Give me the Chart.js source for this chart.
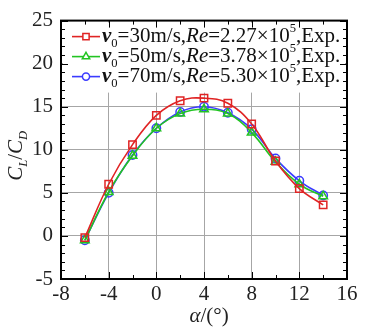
<!DOCTYPE html>
<html>
<head>
<meta charset="utf-8">
<script src="https://cdn.jsdelivr.net/npm/chart.js@4.4.1/dist/chart.umd.min.js"></script>
<style>
    html, body { margin: 0; padding: 0; background: #fff; }
    #wrap { width: 390px; height: 334px; position: relative; }
</style>
</head>
<body>
<div id="wrap"><canvas id="chart"></canvas></div>
<script>
// angle of attack, deg
const alpha = [-6, -4, -2, 0, 2, 4, 6, 8, 10, 12, 14];
// CL/CD for each inflow speed
const ratioV30 = [-0.2, 6.0, 10.6, 14.0, 15.7, 16.0, 15.4, 13.0, 8.7, 5.5, 3.6];
const ratioV50 = [-0.5, 5.1, 9.3, 12.5, 14.2, 14.7, 14.2, 12.0, 8.6, 6.0, 4.6];
const ratioV70 = [-0.5, 5.0, 9.4, 12.5, 14.4, 15.0, 14.3, 12.4, 9.0, 6.4, 4.7];
const speeds = ['30', '50', '70'];
const reynolds = ['2.27', '3.78', '5.30'];
const xTicks = [-8, -4, 0, 4, 8, 12, 16];
const yTicks = [-5, 0, 5, 10, 15, 20, 25];

const serif = '"Liberation Serif", "DejaVu Serif", serif';
const seriesColors = ['#e02424', '#22c422', '#3b3bff'];
const seriesMarkers = ['rect', 'triangle', 'circle'];
const seriesRadius = [5.2, 5, 4.2];

function toPoints(ys) {
    return alpha.map((a, i) => ({ x: a, y: ys[i] }));
}

const datasets = [ratioV30, ratioV50, ratioV70].map((ys, i) => ({
    label: `v0=${speeds[i]}m/s,Re=${reynolds[i]}x10^5,Exp.`,
    data: toPoints(ys),
    borderColor: seriesColors[i],
    borderWidth: 1.6,
    tension: 0.4,
    pointStyle: seriesMarkers[i],
    pointRadius: seriesRadius[i],
    pointBorderWidth: 1.5,
    pointBorderColor: seriesColors[i],
    pointBackgroundColor: 'rgba(0,0,0,0)',
    fill: false,
}));

// draw a run of styled text pieces, returns end x
function drawRich(ctx, x, y, parts, size) {
    parts.forEach((p) => {
        let s = size;
        let dy = 0;
        if (p.sub) { s = size * 0.6; dy = size * 0.35; }
        if (p.sup) { s = size * 0.6; dy = -size * 0.4; }
        ctx.font = `${p.style || ''} ${s}px ${serif}`;
        ctx.fillText(p.t, x, y + dy);
        x += ctx.measureText(p.t).width;
    });
    return x;
}

const framePlugin = {
    id: 'frame',
    afterDatasetsDraw(chart) {
        const { ctx, chartArea: a, scales } = chart;
        const xs = scales.x;
        const ys = scales.y;
        ctx.save();

        // legend, white box over the grid
        ctx.fillStyle = '#fff';
        ctx.fillRect(a.left + 2, a.top + 2, a.right - a.left - 4, 70);
        const size = 21;
        chart.data.datasets.forEach((ds, i) => {
            const rowY = a.top + 16 + i * 20;
            ctx.strokeStyle = ds.borderColor;
            ctx.lineWidth = 1.6;
            ctx.beginPath();
            ctx.moveTo(a.left + 11, rowY);
            ctx.lineTo(a.left + 39, rowY);
            ctx.stroke();
            ctx.fillStyle = '#fff';
            ctx.lineWidth = 1.5;
            Chart.helpers.drawPoint(ctx, {
                pointStyle: ds.pointStyle, radius: ds.pointRadius * 0.85, borderWidth: 1.5,
            }, a.left + 25, rowY);
            ctx.fillStyle = '#111';
            ctx.textBaseline = 'middle';
            ctx.textAlign = 'left';
            drawRich(ctx, a.left + 41, rowY, [
                { t: 'v', style: 'italic bold' },
                { t: '0', sub: true },
                { t: `=${speeds[i]}m/s,` },
                { t: 'Re', style: 'italic' },
                { t: `=${reynolds[i]}\u00d710` },
                { t: '5', sup: true },
                { t: ',Exp.' },
            ], size);
        });

        // inward ticks on all four sides
        ctx.strokeStyle = '#000';
        ctx.lineWidth = 1;
        const tick = (x1, y1, x2, y2) => {
            ctx.beginPath(); ctx.moveTo(x1, y1); ctx.lineTo(x2, y2); ctx.stroke();
        };
        for (let v = -8; v <= 16; v += 2) {
            const px = Math.round(xs.getPixelForValue(v)) + 0.5;
            const len = v % 4 === 0 ? 7 : 4;
            tick(px, a.bottom, px, a.bottom - len);
            tick(px, a.top, px, a.top + len);
        }
        for (let v = -5; v <= 25; v += 1) {
            const py = Math.round(ys.getPixelForValue(v)) + 0.5;
            const len = v % 5 === 0 ? 7 : 4;
            tick(a.left, py, a.left + len, py);
            tick(a.right, py, a.right - len, py);
        }

        // frame
        ctx.lineWidth = 2;
        ctx.strokeRect(a.left, a.top, a.right - a.left, a.bottom - a.top);
        ctx.restore();
    },
    afterDraw(chart) {
        const { ctx, chartArea: a } = chart;
        ctx.save();
        ctx.fillStyle = '#222';
        ctx.textBaseline = 'middle';
        ctx.textAlign = 'left';
        // x title
        const xParts = [{ t: '\u03b1', style: 'italic' }, { t: '/(\u00b0)' }];
        let w = 0;
        xParts.forEach((p) => { ctx.font = `${p.style || ''} 21px ${serif}`; w += ctx.measureText(p.t).width; });
        drawRich(ctx, (a.left + a.right) / 2 + 5 - w / 2, 316, xParts, 21);
        // y title
        ctx.translate(16, (a.top + a.bottom) / 2 + 6);
        ctx.rotate(-Math.PI / 2);
        const yParts = [
            { t: 'C', style: 'italic' }, { t: 'L', style: 'italic', sub: true },
            { t: '/' },
            { t: 'C', style: 'italic' }, { t: 'D', style: 'italic', sub: true },
        ];
        w = 0;
        yParts.forEach((p) => {
            ctx.font = `${p.style || ''} ${p.sub ? 21 * 0.6 : 21}px ${serif}`;
            w += ctx.measureText(p.t).width;
        });
        drawRich(ctx, -w / 2, 0, yParts, 21);
        ctx.restore();
    },
};

new Chart(document.getElementById('chart'), {
    type: 'line',
    data: { datasets: datasets },
    options: {
        responsive: true,
        maintainAspectRatio: false,
        animation: false,
        layout: { padding: { top: 17, right: 43, left: 0, bottom: 0 } },
        plugins: {
            legend: { display: false },
            tooltip: { enabled: false },
        },
        scales: {
            x: {
                type: 'linear',
                min: -8,
                max: 16,
                afterBuildTicks: (scale) => { scale.ticks = xTicks.map(v => ({ value: v })); },
                afterFit: (scale) => { scale.height = 55; },
                ticks: {
                    autoSkip: false,
                    maxRotation: 0,
                    padding: 3,
                    color: '#222',
                    font: { family: serif, size: 21 },
                },
                grid: { color: '#a6a6a6', lineWidth: 1, drawTicks: false },
                border: { display: false },
            },
            y: {
                min: -5,
                max: 25,
                afterBuildTicks: (scale) => { scale.ticks = yTicks.map(v => ({ value: v })); },
                afterFit: (scale) => { scale.width = 61; },
                ticks: {
                    autoSkip: false,
                    padding: 8,
                    color: '#222',
                    font: { family: serif, size: 21 },
                },
                grid: { color: '#a6a6a6', lineWidth: 1, drawTicks: false },
                border: { display: false },
            },
        },
    },
    plugins: [framePlugin],
});
</script>
</body>
</html>
